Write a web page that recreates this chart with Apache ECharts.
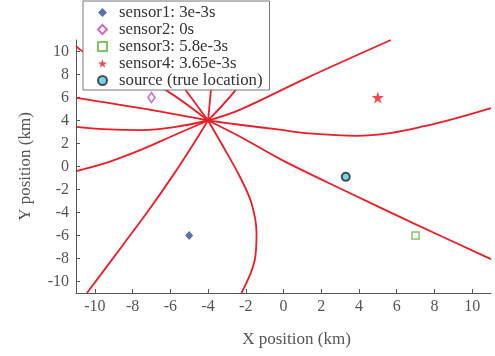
<!DOCTYPE html>
<html>
<head>
<meta charset="utf-8">
<script src="https://cdn.jsdelivr.net/npm/echarts@6/dist/echarts.min.js"></script>
<style>html,body{margin:0;padding:0;background:#fff;}#c{width:495px;height:356px;}</style>
</head>
<body>
<div id="c"></div>
<script>
// ---- data ----
const legendNames = ['sensor1: 3e-3s', 'sensor2: 0s', 'sensor3: 5.8e-3s', 'sensor4: 3.65e-3s', 'source (true location)'];
const sensor1 = [[-5, -6]];
const sensor2 = [[-7, 6]];
const sensor3 = [[7, -6]];
const sensor4 = [[5, 6]];
const source = [[3.3, -0.9]];

const tickValues = [-10, -8, -6, -4, -2, 0, 2, 4, 6, 8, 10];
const xLabel = 'X position (km)';
const yLabel = 'Y position (km)';

// red curves (each runs outward from the common crossing point)
const curveA = [[-4, 4], [-7.5, 5.05], [-11, 5.97]];
const curveB = [[-4, 4], [-5.71, 3.45], [-7.47, 3.17], [-9.24, 3.22], [-11, 3.45]];
const curveC = [[-4, 4], [-5.71, 2.78], [-7.47, 1.51], [-9.24, 0.41], [-11, -0.4]];
const curveD = [[-4, 4], [-4.8, 1.9], [-5.85, -0.75], [-7.1, -3.7], [-8.5, -6.8], [-10.42, -11]];
const curveE = [[-4, 4], [-3.2, 1.74], [-2.32, -0.87], [-1.7, -3.18], [-1.43, -5.79], [-1.52, -8.11], [-2.23, -11]];
const curveF = [[-4, 4], [-6.71, 7.1], [-10.64, 10.0], [-11, 10.46]];
const curveG = [[-4, 4], [-2.32, 4.93], [1.22, 7.69], [5.69, 11]];
const curveH = [[-4, 4], [-2.32, 3.63], [-0.2, 3.2], [1.22, 2.9], [3.87, 2.67], [5.63, 2.9], [7.4, 3.48], [9.17, 4.21], [11, 5.08]];
const curveI = [[-4, 4], [-2.32, 2.61], [-0.1, 0.58], [3.34, -2.17], [6.87, -4.92], [11, -8.05]];
const curveJ = [[-4, 4], [-5.41, 7.13], [-7.2, 11]];
const curveK = [[-4, 4], [-3.82, 7.1], [-3.6, 11]];
const curveL = [[-4, 4], [-2.32, 7.1], [-1.7, 9], [-1.4, 11]];
const curves = [curveA, curveB, curveC, curveD, curveE, curveF, curveG, curveH, curveI, curveJ, curveK, curveL];

// ---- chart ----
const FONT = 'Liberation Serif';
const starPath = 'path://M0,-10 L2.35,-3.24 L9.51,-3.09 L3.8,1.24 L5.88,8.09 L0,4 L-5.88,8.09 L-3.8,1.24 L-9.51,-3.09 L-2.35,-3.24 Z';
const RED = '#ee1c24';

const chart = echarts.init(document.getElementById('c'), null, {renderer: 'canvas'});

function axis(name, isY) {
  return {
    type: 'value', min: -11, max: 11,
    name: name, nameLocation: 'middle', nameGap: isY ? 42 : 38,
    nameTextStyle: {fontFamily: FONT, fontSize: 17, color: '#555', padding: isY ? 0 : [0, 0, 0, 26]},
    axisLine: {show: true, onZero: false, lineStyle: {color: '#555', width: 1}},
    axisTick: {show: true, inside: true, length: 4, customValues: tickValues, lineStyle: {color: '#555'}},
    axisLabel: {customValues: tickValues, fontFamily: FONT, fontSize: 16, color: '#555', margin: isY ? 7 : 6},
    splitLine: {show: false}
  };
}

const series = curves.map(c => ({
  type: 'line', data: c, showSymbol: false, symbol: 'none', smooth: 0.35,
  lineStyle: {color: RED, width: 1.8}, clip: true, z: 2, silent: true
}));

series.push(
  {name: legendNames[0], type: 'scatter', data: sensor1, symbol: 'diamond', symbolSize: [8, 9],
   itemStyle: {color: '#2f4c9e'}, z: 5},
  {name: legendNames[1], type: 'scatter', data: sensor2, symbol: 'diamond', symbolSize: [7, 10],
   itemStyle: {color: '#fff', borderColor: '#c046b8', borderWidth: 1.5}, z: 5},
  {name: legendNames[2], type: 'scatter', data: sensor3, symbol: 'rect', symbolSize: 7,
   itemStyle: {color: '#fff', borderColor: '#5cbc3c', borderWidth: 1.5}, z: 5},
  {name: legendNames[3], type: 'scatter', data: sensor4, symbol: starPath, symbolSize: 12,
   itemStyle: {color: '#ee1c24'}, z: 5},
  {name: legendNames[4], type: 'scatter', data: source, symbol: 'circle', symbolSize: 8,
   itemStyle: {color: '#5bc4d8', borderColor: '#1d2a33', borderWidth: 2}, z: 5}
);

chart.setOption({
  animation: false,
  backgroundColor: '#fff',
  grid: {left: 76, right: 4, top: 40, bottom: 63, containLabel: false},
  xAxis: axis(xLabel, false),
  yAxis: axis(yLabel, true),
  legend: {
    data: legendNames,
    orient: 'vertical', left: 83, top: 1,
    backgroundColor: '#fff', borderColor: '#777', borderWidth: 1,
    padding: [3, 7, 1, 14], itemGap: 0, itemWidth: 9, itemHeight: 9,
    textStyle: {fontFamily: FONT, fontSize: 16.8, color: '#333', lineHeight: 15.6, padding: [0, 0, 0, 7]},
    selectedMode: false, z: 10
  },
  series: series
});
</script>
</body>
</html>
